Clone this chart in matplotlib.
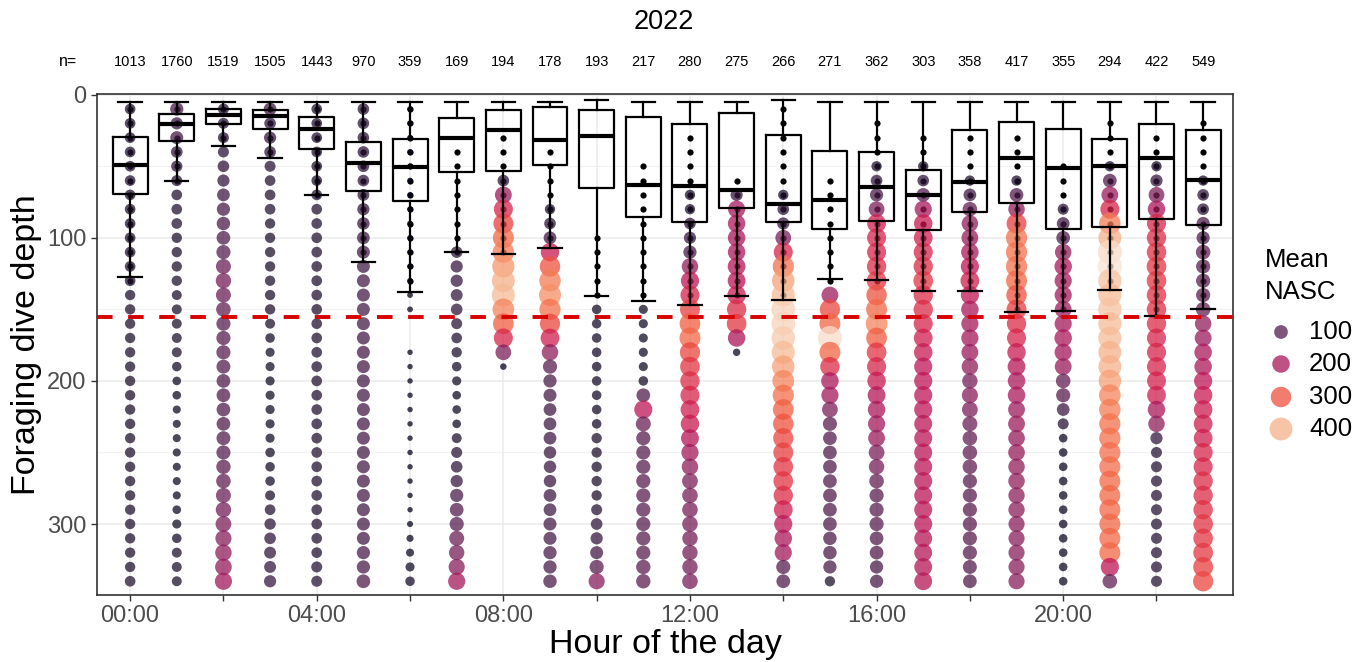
import numpy as np
import matplotlib
matplotlib.use("Agg")
import matplotlib.pyplot as plt
from matplotlib.colors import Normalize
import seaborn as sns

nan = np.nan

# ---------------- data ----------------
hours = list(range(24))
tick_hours = [0, 2, 4, 6, 8, 10, 12, 14, 16, 18, 20, 22]
tick_labels = ["00:00", "", "04:00", "", "08:00", "", "12:00", "", "16:00", "", "20:00", ""]
n_dives = [1013, 1760, 1519, 1505, 1443, 970, 359, 169, 194, 178, 193, 217,
           280, 275, 266, 271, 362, 303, 358, 417, 355, 294, 422, 549]

depth_bins = [10, 20, 30, 40, 50, 60, 70, 80, 90, 100, 110, 120, 130, 140, 150, 160, 170,
              180, 190, 200, 210, 220, 230, 240, 250, 260, 270, 280, 290, 300, 310, 320, 330, 340]

# mean NASC per hour (columns) and depth bin (rows 10..340 m)
nasc_h00 = [45, 45, 45, 45, 45, 45, 45, 45, 45, 45, 45, 45, 45, 40, 40, 40, 40, 40, 40, 40, 40, 40, 40, 40, 40, 40, 40, 40, 40, 40, 40, 40, 40, 45]
nasc_h01 = [90, 70, 85, 60, 55, 50, 45, 45, 45, 40, 40, 40, 40, 35, 35, 35, 35, 35, 30, 20, 20, 15, 15, 15, 15, 15, 15, 15, 20, 25, 30, 35, 35, 35]
nasc_h02 = [50, 50, 50, 50, 60, 70, 80, 90, 95, 100, 110, 130, 140, 130, 120, 110, 110, 110, 105, 100, 100, 100, 100, 105, 110, 115, 120, 130, 140, 150, 160, 170, 175, 190]
nasc_h03 = [80, 60, 70, 60, 50, 45, 45, 45, 40, 40, 40, 40, 40, 40, 40, 35, 30, 25, 25, 25, 25, 25, 25, 25, 30, 30, 30, 35, 45, 55, 60, 65, 65, 70]
nasc_h04 = [45, 45, 45, 45, 45, 45, 45, 45, 45, 45, 45, 45, 45, 45, 45, 45, 45, 45, 45, 45, 45, 45, 45, 45, 45, 45, 45, 45, 45, 45, 45, 45, 50, 50]
nasc_h05 = [60, 60, 60, 60, 60, 60, 65, 70, 75, 80, 85, 85, 85, 85, 85, 85, 85, 85, 85, 85, 85, 85, 85, 85, 85, 85, 85, 85, 85, 85, 85, 90, 90, 100]
nasc_h06 = [2, 2, 2, 2, 2, 2, 2, 2, 2, 2, 2, 2, 2, 2, 2, nan, nan, 1, 1, 1, 1, 1, 1, 1, 1, 1, 1, 1, 1, 3, 8, 15, 25, 30]
nasc_h07 = [nan, nan, nan, nan, nan, nan, nan, nan, nan, nan, 60, 70, 70, 65, 60, 50, 45, 40, 30, 25, 20, 20, 20, 35, 50, 60, 70, 90, 100, 110, 130, 140, 160, 190]
nasc_h08 = [nan, nan, nan, nan, nan, 60, 180, 250, 280, 320, 340, 370, 400, 410, 350, 310, 250, 150, 5, nan, nan, nan, nan, nan, nan, nan, nan, nan, nan, nan, nan, nan, nan, nan]
nasc_h09 = [nan, nan, nan, nan, nan, nan, nan, 40, 60, 80, 230, 300, 340, 360, 330, 290, 240, 170, 110, 90, 85, 80, 80, 80, 75, 75, 75, 80, 80, 85, 85, 90, 90, 95]
nasc_h10 = [nan, nan, nan, nan, nan, nan, nan, nan, nan, nan, nan, nan, nan, nan, 30, 30, 30, 30, 30, 30, 30, 30, 30, 40, 40, 40, 40, 40, 50, 60, 70, 85, 110, 160]
nasc_h11 = [nan, nan, nan, nan, nan, nan, nan, nan, nan, nan, nan, nan, nan, nan, 25, 25, 25, 25, 25, 30, 100, 220, 130, 110, 110, 110, 110, 110, 110, 110, 110, 110, 115, 115]
nasc_h12 = [nan, nan, nan, nan, nan, nan, 40, 40, 60, 70, 90, 170, 220, 250, 280, 310, 320, 290, 270, 260, 250, 240, 230, 210, 190, 170, 150, 145, 145, 145, 140, 140, 140, 145]
nasc_h13 = [nan, nan, nan, nan, nan, nan, 70, 190, 200, 200, 200, 210, 210, 230, 260, 270, 200, 10, nan, nan, nan, nan, nan, nan, nan, nan, nan, nan, nan, nan, nan, nan, nan, nan]
nasc_h14 = [nan, nan, nan, nan, nan, nan, 40, 60, 70, 150, 250, 330, 380, 410, 440, 440, 430, 410, 380, 350, 330, 310, 300, 290, 280, 270, 270, 260, 240, 220, 200, 190, 110, 100]
nasc_h15 = [nan, nan, nan, nan, nan, nan, nan, nan, nan, nan, nan, nan, nan, 180, 290, 320, 450, 320, 260, 200, 190, 150, 110, 100, 100, 100, 100, 100, 100, 100, 95, 95, 90, 40]
nasc_h16 = [nan, nan, nan, nan, 40, 60, 90, 150, 240, 250, 250, 260, 270, 300, 320, 350, 310, 270, 250, 230, 210, 200, 190, 180, 150, 140, 120, 110, 110, 110, 100, 100, 90, 90]
nasc_h17 = [nan, nan, nan, nan, 40, 60, 100, 190, 230, 240, 250, 260, 270, 260, 260, 250, 240, 230, 220, 220, 220, 220, 215, 215, 215, 215, 215, 215, 215, 215, 210, 210, 210, 210]
nasc_h18 = [nan, nan, nan, nan, nan, 40, 80, 120, 170, 180, 200, 220, 240, 220, 200, 190, 190, 180, 170, 140, 160, 150, 130, 120, 120, 120, 110, 110, 110, 110, 110, 110, 105, 100]
nasc_h19 = [nan, nan, nan, nan, nan, 40, 100, 170, 280, 330, 330, 330, 320, 300, 280, 260, 250, 230, 210, 200, 200, 180, 180, 175, 175, 170, 170, 165, 165, 160, 160, 160, 160, 160]
nasc_h20 = [nan, nan, nan, nan, nan, nan, nan, 50, 80, 100, 170, 200, 190, 190, 180, 190, 200, 190, 180, 120, 110, 80, 50, 20, 20, 20, 20, 20, 20, 20, 20, 20, 20, 20]
nasc_h21 = [nan, nan, nan, nan, 40, 100, 180, 250, 340, 400, 450, 460, 420, 410, 420, 410, 410, 400, 400, 380, 350, 340, 330, 330, 325, 325, 320, 320, 320, 320, 320, 320, 220, 120]
nasc_h22 = [nan, nan, nan, nan, 40, 70, 150, 200, 250, 260, 265, 270, 270, 265, 265, 260, 250, 250, 250, 245, 240, 200, 170, 70, 50, 50, 50, 50, 50, 50, 50, 50, 50, 50]
nasc_h23 = [nan, nan, nan, nan, nan, 40, 60, 60, 90, 90, 120, 110, 110, 110, 120, 170, 180, 200, 200, 220, 230, 235, 240, 240, 250, 250, 260, 260, 265, 270, 270, 275, 280, 290]

nasc_by_hour = [nasc_h00, nasc_h01, nasc_h02, nasc_h03, nasc_h04, nasc_h05, nasc_h06, nasc_h07,
                nasc_h08, nasc_h09, nasc_h10, nasc_h11, nasc_h12, nasc_h13, nasc_h14, nasc_h15,
                nasc_h16, nasc_h17, nasc_h18, nasc_h19, nasc_h20, nasc_h21, nasc_h22, nasc_h23]

# depth range of the individual dive points (black dots)
dive_top = [10, 10, 10, 10, 10, 10, 10, 40, 30, 40, 100, 50, 30, 60, 10, 60, 20, 30, 30, 30, 50, 20, 30, 20]
dive_bottom = [130, 60, 30, 40, 70, 110, 130, 110, 110, 100, 140, 140, 140, 140, 140, 130, 130, 130, 130, 150, 150, 130, 150, 140]

# box plot statistics of foraging dive depth
whisker_low = [5, 5, 5, 5, 5, 5, 5, 5, 5, 5, 4, 5, 5, 5, 4, 5, 5, 5, 5, 5, 5, 5, 5, 5]
q1 = [29.4, 13.8, 9.8, 10.5, 15.9, 33.1, 31.2, 16.6, 10.5, 8.6, 11.0, 15.6, 20.3, 12.6, 28.4, 39.2, 40.1, 52.4, 24.5, 18.9, 24.0, 30.8, 20.7, 24.5]
median = [49.2, 20.3, 14.0, 15.2, 23.8, 47.6, 50.8, 30.5, 24.5, 31.7, 29.1, 62.9, 63.6, 66.4, 76.2, 73.4, 64.3, 70.4, 61.3, 44.5, 51.5, 50.1, 44.0, 59.9]
q3 = [69.5, 32.4, 20.5, 24.0, 37.8, 67.1, 74.4, 54.3, 53.4, 49.2, 65.5, 85.5, 88.8, 79.5, 89.0, 93.7, 87.9, 94.6, 82.0, 75.8, 93.5, 92.5, 87.0, 91.1]
whisker_high = [127.7, 60.1, 36.1, 44.3, 69.9, 117.0, 138.0, 110.0, 111.4, 106.8, 141.0, 144.5, 147.0, 140.8, 143.8, 128.9, 129.8, 137.3, 137.5, 151.5, 150.8, 136.8, 154.5, 149.4]

threshold_depth = 155
legend_values = [100, 200, 300, 400]

# ---------------- styling helpers ----------------
W, H = 1367, 662
norm = Normalize(vmin=0, vmax=470)
cmap = sns.color_palette("rocket", as_cmap=True)
ALPHA = 0.75


def marker_area(v):
    d_px = 4.5 + 0.92 * np.sqrt(np.asarray(v, dtype=float))
    return (d_px * 0.72) ** 2


plt.rcParams["font.family"] = ["Liberation Sans", "DejaVu Sans"]

fig = plt.figure(figsize=(W / 100, H / 100), dpi=100)
ax = fig.add_axes([97 / W, 1 - 595 / H, 1136 / W, 501 / H])

# grid
for yv in [0, 100, 200, 300]:
    ax.axhline(yv, color="#ebebeb", lw=1.1, zorder=0)
for yv in [50, 150, 250]:
    ax.axhline(yv, color="#f2f2f2", lw=0.8, zorder=0)
for xv in tick_hours:
    ax.axvline(xv, color="#ebebeb", lw=1.1, zorder=0)

depths = np.array(depth_bins, dtype=float)

# dive points (black, small)
for h in hours:
    sel = (depths >= dive_top[h]) & (depths <= dive_bottom[h])
    ax.scatter(np.full(sel.sum(), h), depths[sel], s=20, c="black", linewidths=0, zorder=2)

# NASC points
for h in hours:
    vals = np.array(nasc_by_hour[h], dtype=float)
    ok = np.isfinite(vals)
    ax.scatter(np.full(ok.sum(), h), depths[ok], s=marker_area(vals[ok]), c=vals[ok],
               cmap=cmap, norm=norm, alpha=ALPHA, linewidths=0, zorder=3)

# box plots
stats = []
for h in hours:
    stats.append(dict(whislo=whisker_low[h], q1=q1[h], med=median[h], q3=q3[h],
                      whishi=whisker_high[h], fliers=[]))
ax.bxp(stats, positions=hours, widths=0.75, capwidths=0.5, showfliers=False,
       manage_ticks=False, patch_artist=False,
       boxprops=dict(color="black", linewidth=1.6),
       whiskerprops=dict(color="black", linewidth=1.6),
       capprops=dict(color="black", linewidth=1.6),
       medianprops=dict(color="black", linewidth=3.0, solid_capstyle="butt"),
       zorder=4)

# threshold line
ax.axhline(threshold_depth, color="#d60000", lw=2.8, linestyle=(0, (4, 4)),
           dash_capstyle="butt", zorder=5)

ax.set_xlim(-0.71, 23.64)
ax.set_ylim(349.6, -0.5)
ax.set_xticks(tick_hours)
ax.set_xticklabels(tick_labels)
ax.set_yticks([0, 100, 200, 300])
ax.tick_params(axis="both", colors="#333333", labelcolor="#4d4d4d", labelsize=17,
               length=4, width=1.0)
for sp in ax.spines.values():
    sp.set_color("#333333")
    sp.set_linewidth(1.2)

ax.set_xlabel("Hour of the day", fontsize=24.5, labelpad=1, color="black")
ax.set_ylabel("Foraging dive depth", fontsize=24.5, labelpad=4, color="black")

# n labels and title
for h in hours:
    ax.text(h, 1.064, str(n_dives[h]), transform=ax.get_xaxis_transform(),
            ha="center", va="center", fontsize=10.5, color="black")
fig.text(68 / W, 1 - 62 / H, "n=", ha="center", va="center", fontsize=11.5)
fig.text(664 / W, 1 - 22 / H, "2022", ha="center", va="center", fontsize=19.5)

# legend (drawn in a transparent overlay in pixel coordinates)
lax = fig.add_axes([0, 0, 1, 1], facecolor="none")
lax.set_xlim(0, W)
lax.set_ylim(H, 0)
lax.axis("off")
lax.text(1265, 260, "Mean", ha="left", va="center", fontsize=18.5)
lax.text(1265, 292, "NASC", ha="left", va="center", fontsize=18.5)
leg_y = [332, 364, 397, 429]
lax.scatter([1281] * len(legend_values), leg_y, s=marker_area(legend_values),
            c=legend_values, cmap=cmap, norm=norm, alpha=ALPHA, linewidths=0)
for yv, v in zip(leg_y, legend_values):
    lax.text(1309, yv, str(v), ha="left", va="center", fontsize=18.5)

fig.savefig("out.png", dpi=100)
